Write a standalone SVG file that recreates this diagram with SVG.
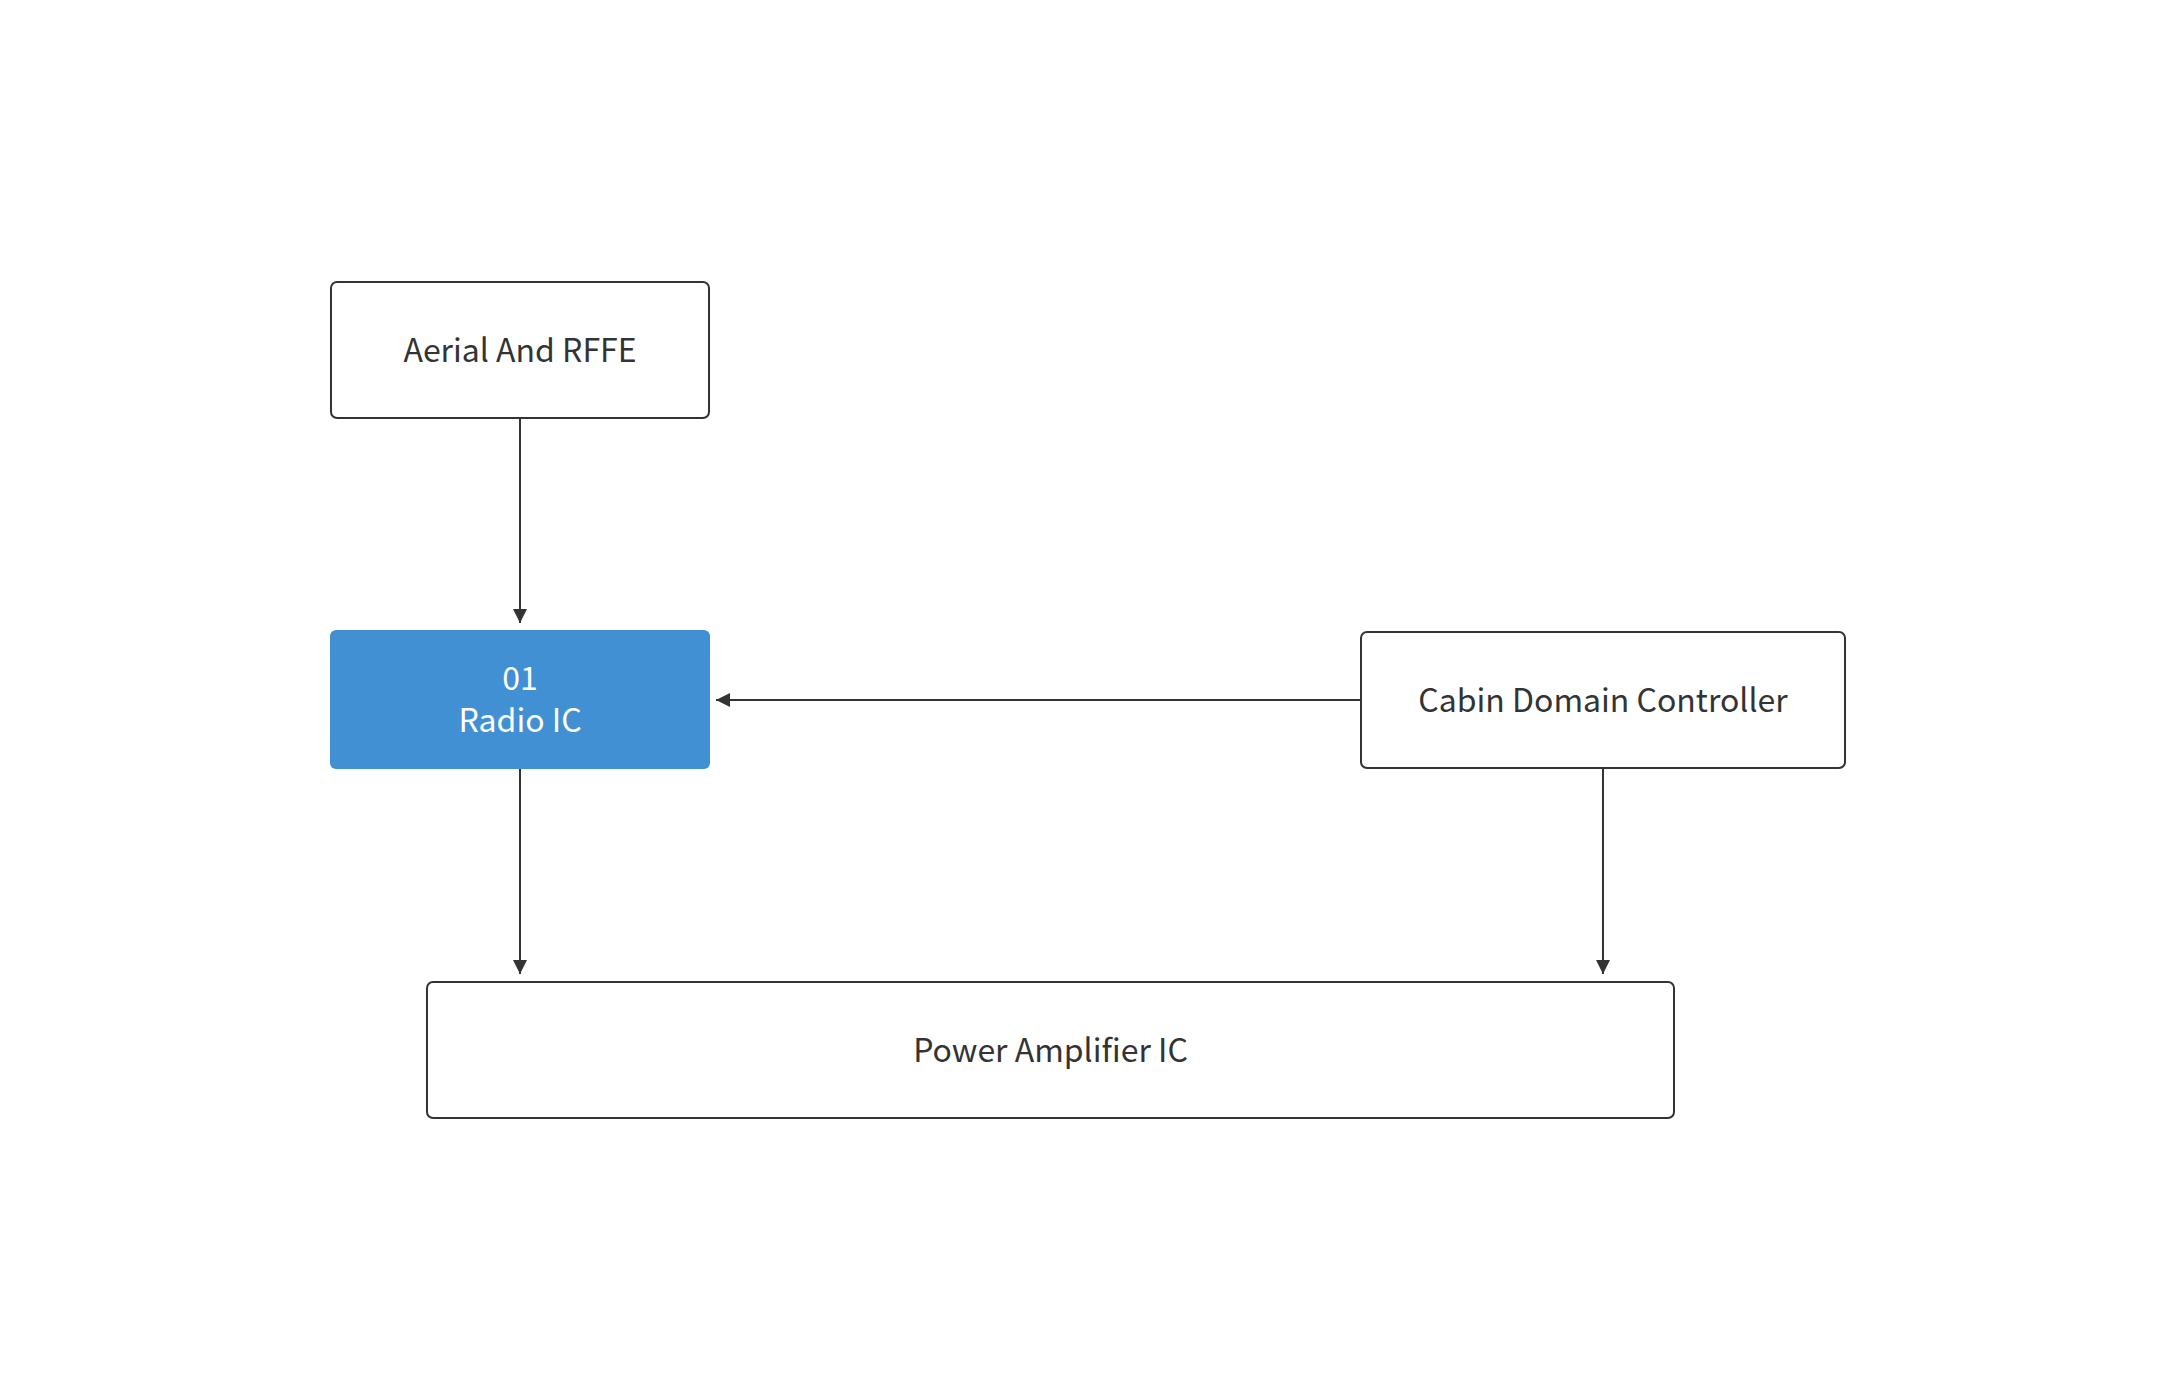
<svg xmlns="http://www.w3.org/2000/svg" width="2176" height="1400" viewBox="0 0 2176 1400">
  <defs>
    <style>
      .box { fill: #ffffff; stroke: #333333; stroke-width: 2; }
      .hl { fill: #4190d3; stroke: none; }
      .lbl { font-family: "Noto Sans CJK SC", "Noto Sans", sans-serif; font-size: 32px; fill: #333333; text-anchor: middle; }
      .lbl-w { fill: #ffffff; }
      .conn { fill: none; stroke: #333333; stroke-width: 2; }
    </style>
    <marker id="arr" markerUnits="userSpaceOnUse" markerWidth="16" markerHeight="16" viewBox="0 0 16 16" refX="14" refY="8" orient="auto">
      <path d="M0,1 L14,8 L0,15 Z" fill="#333333"/>
    </marker>
  </defs>
  <rect x="0" y="0" width="2176" height="1400" fill="#ffffff"/>

  <g id="connectors">
    <line class="conn" x1="520" y1="419" x2="520" y2="623" marker-end="url(#arr)"/>
    <line class="conn" x1="1360" y1="700" x2="716" y2="700" marker-end="url(#arr)"/>
    <line class="conn" x1="520" y1="769" x2="520" y2="974" marker-end="url(#arr)"/>
    <line class="conn" x1="1603" y1="769" x2="1603" y2="974" marker-end="url(#arr)"/>
  </g>

  <g id="node-aerial">
    <rect class="box" x="331" y="282" width="378" height="136" rx="6"/>
    <text class="lbl" x="520" y="362">Aerial And RFFE</text>
  </g>

  <g id="node-radio">
    <rect class="hl" x="330" y="630" width="380" height="139" rx="6"/>
    <text class="lbl lbl-w" x="520" y="690">01</text>
    <text class="lbl lbl-w" x="520" y="732">Radio IC</text>
  </g>

  <g id="node-cabin">
    <rect class="box" x="1361" y="632" width="484" height="136" rx="6"/>
    <text class="lbl" x="1603" y="712">Cabin Domain Controller</text>
  </g>

  <g id="node-power">
    <rect class="box" x="427" y="982" width="1247" height="136" rx="6"/>
    <text class="lbl" x="1050.5" y="1062">Power Amplifier IC</text>
  </g>
</svg>
